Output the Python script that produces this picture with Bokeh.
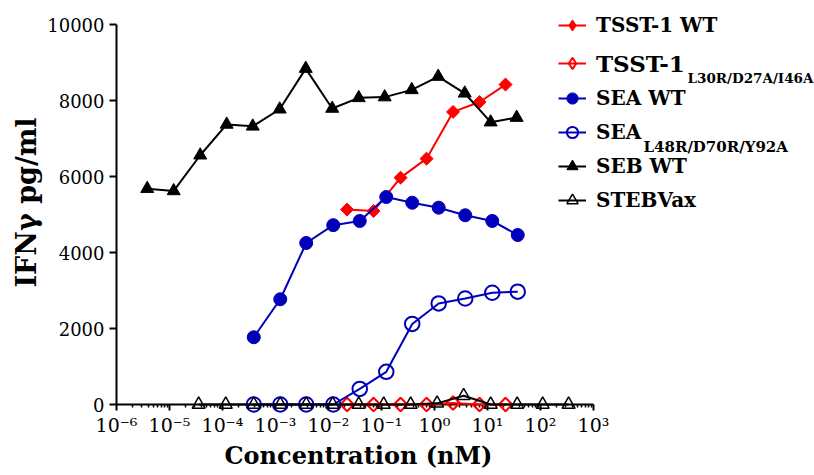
import math
from bokeh.plotting import figure
from bokeh.models import (Range1d, FixedTicker, CustomJSTickFormatter, Legend,
                          LegendItem, Label, Title)
from bokeh.embed import file_html
from bokeh.resources import INLINE

# ---------------- data ----------------
tsst_conc = [0.0224, 0.0708, 0.229, 0.708, 2.24, 7.08, 21.9]          # nM
tsst_wt = [5130, 5090, 5970, 6470, 7700, 7960, 8420]                  # pg/ml
tsst_mut = [0, 0, 0, 0, 40, 0, 0]

sea_conc = [0.000389, 0.00123, 0.0038, 0.0123, 0.0389, 0.123, 0.38,
            1.2, 3.8, 12.3, 37.2]
sea_wt = [1770, 2770, 4250, 4720, 4830, 5460, 5310, 5180, 4980, 4830, 4460]
sea_mut = [0, 0, 0, 0, 410, 860, 2120, 2660, 2790, 2940, 2970]

seb_conc = [3.8e-6, 1.2e-5, 3.8e-5, 1.2e-4, 3.72e-4, 1.2e-3, 3.72e-3,
            0.01175, 0.0372, 0.1148, 0.372, 1.175, 3.72, 11.48, 35.5]
seb_wt = [5680, 5620, 6560, 7370, 7320, 7770, 8840, 7790, 8070, 8090,
          8280, 8630, 8190, 7430, 7550]

stebvax_conc = [3.55e-5, 1.15e-4, 3.89e-4, 1.23e-3, 3.8e-3, 0.012, 0.0372,
                0.11, 0.355, 1.12, 3.55, 11.5, 36.3, 110, 339]
stebvax = [0, 0, 0, 0, 0, 0, 0, 0, 0, 30, 230, 0, 0, 0, 0]

x_decades = [-6, -5, -4, -3, -2, -1, 0, 1, 2, 3]
y_ticks = [0, 2000, 4000, 6000, 8000, 10000]

legend_labels = ["TSST-1 WT", "TSST-1", "SEA WT", "SEA", "SEB WT", "STEBVax"]
subscripts = ["L30R/D27A/I46A", "L48R/D70R/Y92A"]
x_title = "Concentration (nM)"
y_title = "IFN\u03b3 pg/ml"

RED = "#FF0000"
BLUE = "#0000BB"
BLACK = "#000000"
FONT = "DejaVu Serif"

x_ticks = [10.0 ** d for d in x_decades]
x_minor = [k * 10.0 ** d for d in x_decades[:-1] for k in range(2, 10)]

p = figure(width=814, height=475, x_axis_type="log",
           x_range=Range1d(1e-6, 10 ** 7.17), y_range=Range1d(0, 10632),
           output_backend="svg", toolbar_location=None,
           min_border_left=116, min_border_right=0, min_border_top=0,
           min_border_bottom=71)
p.outline_line_color = None
p.grid.visible = False
p.background_fill_color = "white"
p.border_fill_color = "white"

# ---------------- series ----------------
def series(xs, ys, color, marker, size, filled, lw_marker, angle=0.0):
    ln = p.line(xs, ys, line_color=color, line_width=2, level="overlay")
    sc = p.scatter(xs, ys, marker=marker, size=size, angle=angle,
                   fill_color=color if filled else None,
                   line_color=color, line_width=lw_marker, level="overlay")
    return ln, sc

l_tsst_wt, s_tsst_wt = series(tsst_conc, tsst_wt, RED, "square", 9.2, True, 1, math.pi / 4)
l_tsst_mut, s_tsst_mut = series(tsst_conc, tsst_mut, RED, "square", 9.5, False, 2, math.pi / 4)
l_sea_wt, s_sea_wt = series(sea_conc, sea_wt, BLUE, "circle", 13, True, 1)
l_sea_mut, s_sea_mut = series(sea_conc, sea_mut, BLUE, "circle", 14.5, False, 2)
l_seb, s_seb = series(seb_conc, seb_wt, BLACK, "triangle", 13, True, 1)
l_steb, s_steb = series(stebvax_conc, stebvax, BLACK, "triangle", 13, False, 1.5)

# legend swatches with diamond markers (legend draws markers unrotated);
# hidden in the plot itself, the rotated squares above show the data
k_tsst_wt = p.scatter(tsst_conc, tsst_wt, marker="diamond", fill_color=RED,
                      line_color=RED, line_width=1, visible=False)
k_tsst_mut = p.scatter(tsst_conc, tsst_mut, marker="diamond", fill_color=None,
                       line_color=RED, line_width=2, visible=False)

# ---------------- axes ----------------
xa = p.xaxis[0]
xa.ticker = FixedTicker(ticks=x_ticks, minor_ticks=x_minor)
xa.formatter = CustomJSTickFormatter(code=r"""
const e = Math.round(Math.log10(tick));
const m = {"-": "\u207B", "0": "\u2070", "1": "\u00B9", "2": "\u00B2", "3": "\u00B3",
           "4": "\u2074", "5": "\u2075", "6": "\u2076", "7": "\u2077", "8": "\u2078", "9": "\u2079"};
let s = "";
for (const c of String(e)) { s += m[c]; }
return "10" + s;
""")
xa.bounds = (1e-6, 1e3)
xa.axis_line_width = 2
xa.major_tick_line_width = 2
xa.minor_tick_line_width = 1.5
xa.major_tick_out = 6
xa.major_tick_in = 0
xa.minor_tick_out = 3
xa.minor_tick_in = 0
xa.major_label_text_font = FONT
xa.major_label_text_font_size = "19px"
xa.major_label_text_color = BLACK
xa.major_label_standoff = 3

ya = p.yaxis[0]
ya.ticker = FixedTicker(ticks=y_ticks)
ya.bounds = (0, 10000)
ya.axis_line_width = 2
ya.major_tick_line_width = 2
ya.major_tick_out = 7
ya.major_tick_in = 0
ya.minor_tick_line_color = None
ya.major_label_text_font = FONT
ya.major_label_text_font_size = "18px"
ya.major_label_text_color = BLACK
ya.major_label_standoff = 5

# ---------------- titles ----------------
p.add_layout(Title(text=x_title, align="left", offset=108, standoff=1,
                   text_font=FONT, text_font_style="bold", text_font_size="24px",
                   text_color=BLACK), "below")
p.add_layout(Title(text=y_title, align="center", standoff=6,
                   text_font=FONT, text_font_style="bold", text_font_size="27px",
                   text_color=BLACK), "left")

# ---------------- legend ----------------
def make_legend(items, loc, font_size="20px"):
    lg = Legend(items=items, location=loc, orientation="vertical",
                padding=0, margin=0, spacing=0,
                glyph_width=28, glyph_height=34, label_height=34,
                label_standoff=10, label_text_font=FONT,
                label_text_font_style="bold", label_text_font_size=font_size,
                label_text_color=BLACK, inactive_fill_alpha=0,
                border_line_color=None, background_fill_alpha=0)
    p.add_layout(lg)
    return lg

make_legend([LegendItem(label=legend_labels[0], renderers=[l_tsst_wt, k_tsst_wt])], (442, 362))
make_legend([LegendItem(label=legend_labels[1], renderers=[l_tsst_mut, k_tsst_mut])], (442, 324), "23px")
make_legend([LegendItem(label=legend_labels[2], renderers=[l_sea_wt, s_sea_wt]),
             LegendItem(label=legend_labels[3], renderers=[l_sea_mut, s_sea_mut]),
             LegendItem(label=legend_labels[4], renderers=[l_seb, s_seb]),
             LegendItem(label=legend_labels[5], renderers=[l_steb, s_steb])], (442, 187))

p.add_layout(Label(x=571, y=326.5, x_units="screen", y_units="screen",
                   text=subscripts[0], text_align="left", text_baseline="alphabetic",
                   text_font=FONT, text_font_style="bold", text_font_size="13.5px",
                   text_color=BLACK))
p.add_layout(Label(x=527, y=258, x_units="screen", y_units="screen",
                   text=subscripts[1], text_align="left", text_baseline="alphabetic",
                   text_font=FONT, text_font_style="bold", text_font_size="15px",
                   text_color=BLACK))

with open("out.html", "w", encoding="utf-8") as f:
    f.write(file_html(p, INLINE))
